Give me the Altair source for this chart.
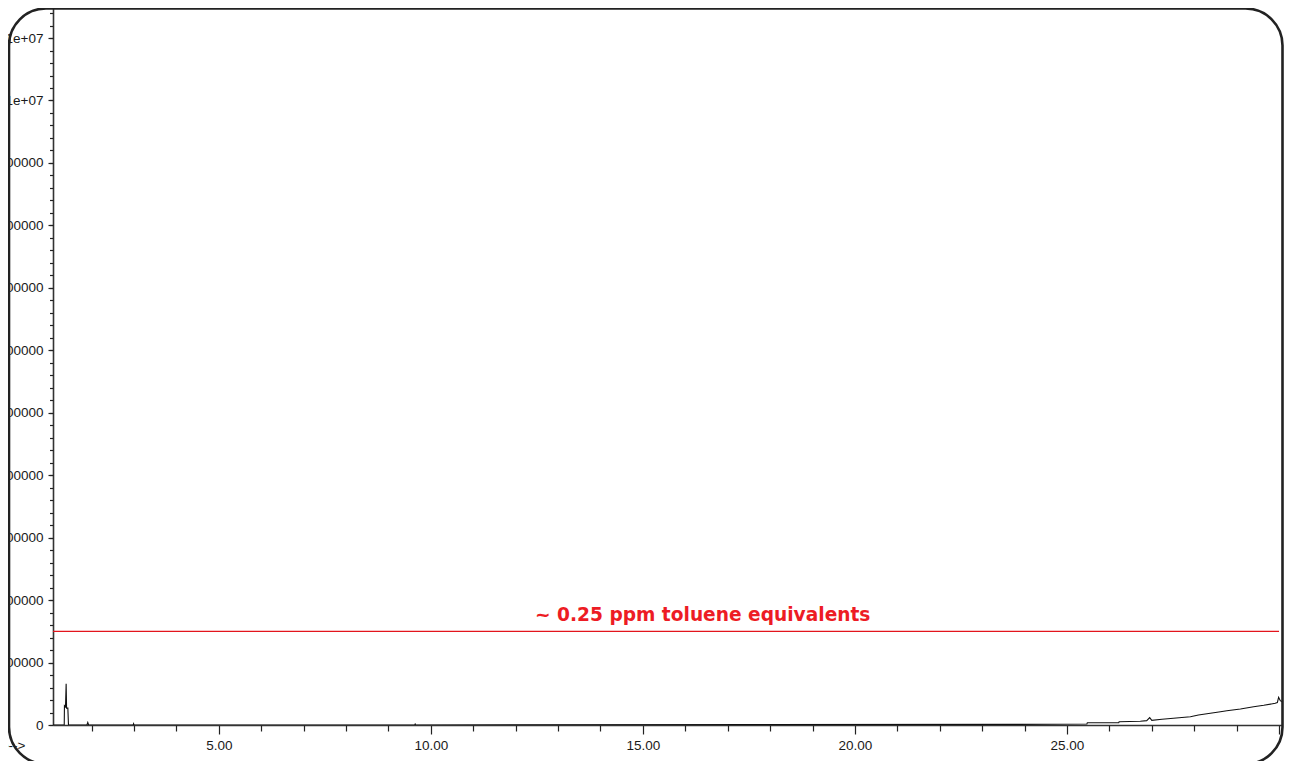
import altair as alt
import pandas as pd

# --- data ---
time_min = [1.09, 1.355, 1.36, 1.385, 1.40, 1.41, 1.44, 1.455, 1.89, 1.91, 1.93,
            2.98, 2.99, 3.00, 9.62, 9.63, 9.64, 23.86, 25.47, 25.48, 26.22, 26.23,
            26.73, 26.88, 26.95, 27.00, 27.24, 27.51, 27.91, 28.10, 28.38, 28.58,
            28.77, 29.09, 29.40, 29.64, 29.91, 29.96, 29.99, 30.03, 30.07, 30.26]
abundance = [0, 0, 310000, 290000, 660000, 270000, 270000, 0, 0, 40000, 0,
             0, 20000, 0, 0, 15000, 0, 10000, 16000, 37000, 37000, 53000,
             60000, 70000, 117000, 75000, 91000, 107000, 133000, 160000, 187000, 208000,
             229000, 256000, 293000, 315000, 347000, 360000, 444000, 390000, 373000, 357000]

x_domain = [1.09, 30.07]
y_domain = [0, 11481000]
x_major_ticks = [5, 10, 15, 20, 25, 30]
x_minor_ticks = [2, 3, 4, 6, 7, 8, 9, 11, 12, 13, 14, 16, 17, 18, 19, 21, 22, 23, 24, 26, 27, 28, 29]
y_major_ticks = [0, 1000000, 2000000, 3000000, 4000000, 5000000, 6000000,
                 7000000, 8000000, 9000000, 10000000, 11000000]
y_minor_ticks = [i * 200000 for i in range(58)]

threshold_value = 1500000
threshold_end = 30.0
annotation_text = "~ 0.25 ppm toluene equivalents"
annotation_x = 16.41
annotation_y = 1670000

trace = pd.DataFrame({"t": time_min, "a": abundance})
rule_df = pd.DataFrame({"t": [x_domain[0]], "t2": [threshold_end], "a": [threshold_value]})
text_df = pd.DataFrame({"t": [annotation_x], "a": [annotation_y], "label": [annotation_text]})

W, H = 1229, 717
FONT = "Liberation Sans"

xs = alt.Scale(domain=x_domain, nice=False, zero=False)
ys = alt.Scale(domain=y_domain, nice=False, zero=False)

x_major_axis = alt.Axis(
    orient="bottom", values=x_major_ticks, tickSize=9, tickWidth=1.2,
    tickColor="#222", domainColor="#333", domainWidth=1.6, grid=False,
    labelExpr="datum.value == 30 ? '' : format(datum.value, '.2f')",
    labelFont=FONT, labelFontSize=13.5, labelColor="#1a1a1a", labelPadding=4,
    labelFlush=False, title="Time-->", titleX=-28, titleY=24, titleAlign="right",
    titleBaseline="alphabetic", titleFont=FONT, titleFontSize=13.5,
    titleFontWeight="normal", titleColor="#1a1a1a",
)
y_major_axis = alt.Axis(
    orient="left", values=y_major_ticks, tickSize=5, tickWidth=1.2,
    tickColor="#222", domainColor="#333", domainWidth=1.6, grid=False,
    labelExpr="datum.value >= 10000000 ? (datum.value / 10000000) + 'e+07' : '' + datum.value",
    labelFont=FONT, labelFontSize=13.5, labelColor="#1a1a1a", labelPadding=5,
    labelFlush=False, title=None,
)
x_minor_axis = alt.Axis(
    orient="bottom", values=x_minor_ticks, tickSize=6, tickWidth=1.2,
    tickColor="#222", domain=False, labels=False, grid=False, title=None,
)
y_minor_axis = alt.Axis(
    orient="left", values=y_minor_ticks, tickSize=3.5, tickWidth=1.2,
    tickColor="#222", domain=False, labels=False, grid=False, title=None,
)

line = alt.Chart(trace).mark_line(color="#111", strokeWidth=1.1, interpolate="linear", clip=True).encode(
    x=alt.X("t:Q", scale=xs, axis=x_major_axis),
    y=alt.Y("a:Q", scale=ys, axis=y_major_axis),
)

rule = alt.Chart(rule_df).mark_rule(color="#e3141c", strokeWidth=1.2).encode(
    x=alt.X("t:Q", scale=xs, axis=x_minor_axis),
    x2="t2:Q",
    y=alt.Y("a:Q", scale=ys, axis=y_minor_axis),
)

text = alt.Chart(text_df).mark_text(
    font="DejaVu Sans", fontWeight="bold", fontSize=18.6, color="#ed1c24",
    align="center", baseline="alphabetic",
).encode(
    x=alt.X("t:Q", scale=xs, axis=None),
    y=alt.Y("a:Q", scale=ys, axis=None),
    text="label:N",
)

frame = alt.Chart(pd.DataFrame({"k": [0]})).mark_rect(
    fill="transparent", stroke="#222", strokeWidth=2.6, cornerRadius=37,
).encode(
    x=alt.value(-44), x2=alt.value(W + 0.5), y=alt.value(0.5), y2=alt.value(756),
)

chart = alt.layer(line, rule, text, frame).resolve_axis(
    x="independent", y="independent"
).properties(
    width=W, height=H,
    padding={"left": 45, "top": 0, "right": 2, "bottom": 36},
    autosize=alt.AutoSizeParams(type="none"),
    background="white",
).configure_view(strokeWidth=0)

chart.save("out.html", embed_options={"renderer": "svg", "actions": False})
